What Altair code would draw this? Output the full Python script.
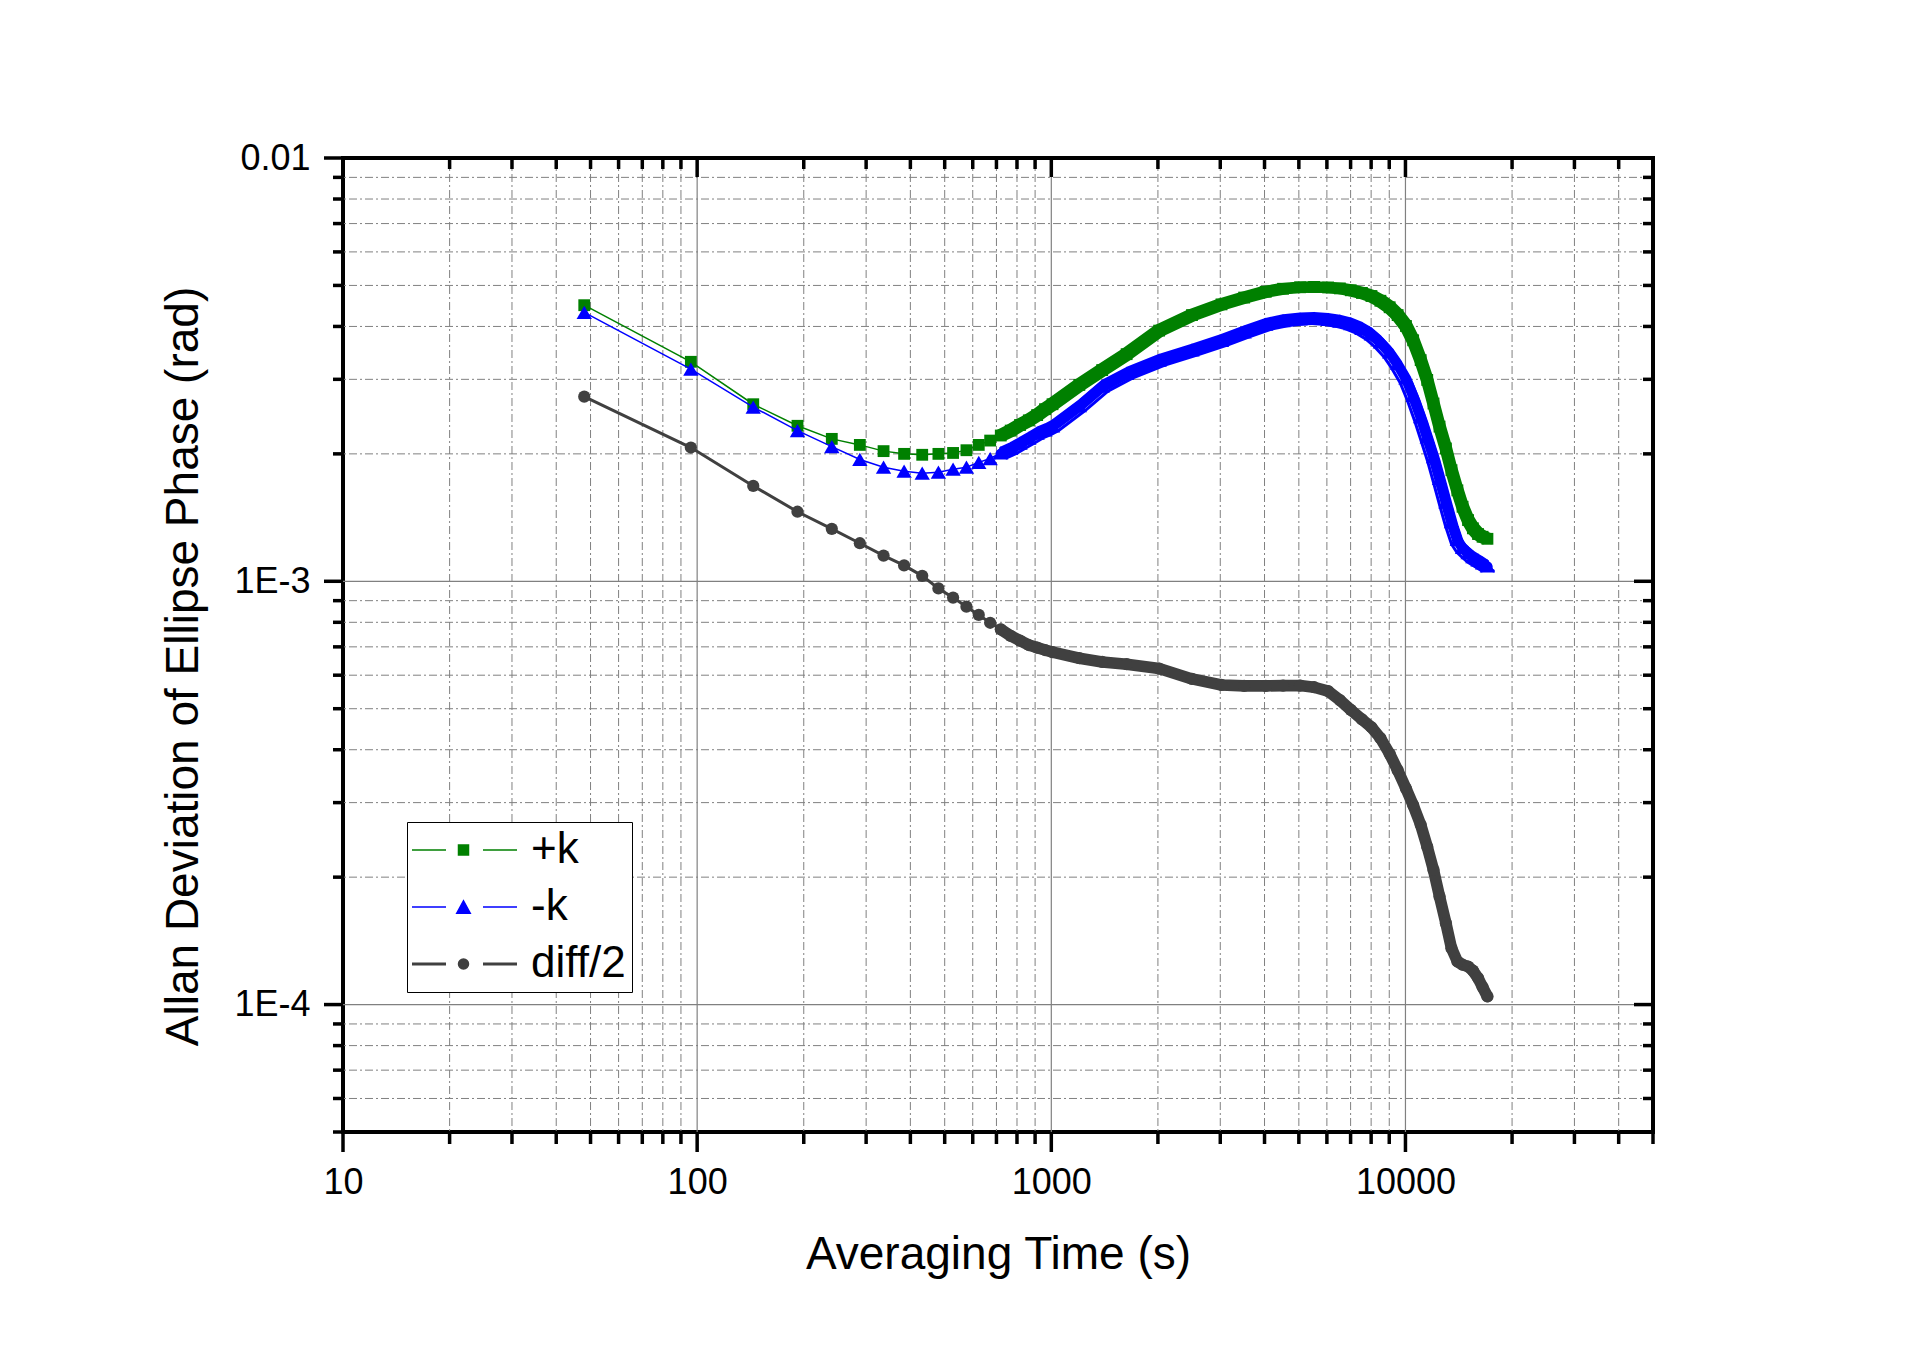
import altair as alt
import pandas as pd

FONT = "Liberation Sans, Arial, Helvetica, sans-serif"

# ---------------- data ----------------
tau = [48, 96, 144, 192, 240, 288, 336, 384, 432, 480, 528, 576, 624, 672, 720,
       768, 816, 864, 912, 960, 1008,
       1200, 1392, 1632, 2016, 2496, 3024, 3504, 4032, 4512, 5040, 5520, 6048,
       6528, 7008, 7536, 8016, 8496, 9024, 9504, 10032, 10512, 11040, 11520,
       12000, 12480, 13008, 13488, 14016, 14496, 15024, 15504, 16032, 16512, 17040]

plus_k = [4.49e-3, 3.30e-3, 2.62e-3, 2.33e-3, 2.17e-3, 2.10e-3, 2.03e-3, 2.00e-3,
          1.99e-3, 2.00e-3, 2.01e-3, 2.04e-3, 2.10e-3, 2.15e-3, 2.21e-3, 2.27e-3,
          2.34e-3, 2.40e-3, 2.47e-3, 2.55e-3, 2.62e-3,
          2.91e-3, 3.155e-3, 3.44e-3, 3.91e-3, 4.255e-3, 4.51e-3, 4.68e-3, 4.83e-3,
          4.91e-3, 4.95e-3, 4.96e-3, 4.945e-3, 4.92e-3, 4.87e-3, 4.80e-3, 4.72e-3,
          4.60e-3, 4.44e-3, 4.255e-3, 4.01e-3, 3.71e-3, 3.33e-3, 2.99e-3, 2.63e-3,
          2.32e-3, 2.06e-3, 1.83e-3, 1.64e-3, 1.50e-3, 1.395e-3, 1.334e-3, 1.293e-3,
          1.274e-3, 1.26e-3]

minus_k = [4.32e-3, 3.17e-3, 2.58e-3, 2.27e-3, 2.08e-3, 1.94e-3, 1.86e-3, 1.82e-3,
           1.80e-3, 1.81e-3, 1.84e-3, 1.86e-3, 1.91e-3, 1.95e-3, 2.01e-3, 2.06e-3,
           2.12e-3, 2.18e-3, 2.24e-3, 2.28e-3, 2.33e-3,
           2.60e-3, 2.89e-3, 3.10e-3, 3.33e-3, 3.52e-3, 3.71e-3, 3.885e-3, 4.05e-3,
           4.13e-3, 4.17e-3, 4.18e-3, 4.156e-3, 4.12e-3, 4.06e-3, 3.96e-3, 3.84e-3,
           3.68e-3, 3.485e-3, 3.27e-3, 3.025e-3, 2.75e-3, 2.45e-3, 2.195e-3, 1.97e-3,
           1.75e-3, 1.54e-3, 1.383e-3, 1.256e-3, 1.203e-3, 1.169e-3, 1.143e-3,
           1.123e-3, 1.106e-3, 1.087e-3]

diff_half = [2.73e-3, 2.07e-3, 1.68e-3, 1.46e-3, 1.33e-3, 1.23e-3, 1.15e-3, 1.09e-3,
             1.03e-3, 9.62e-4, 9.15e-4, 8.71e-4, 8.33e-4, 7.98e-4, 7.70e-4, 7.43e-4,
             7.24e-4, 7.07e-4, 6.97e-4, 6.88e-4, 6.80e-4,
             6.58e-4, 6.45e-4, 6.37e-4, 6.22e-4, 5.88e-4, 5.69e-4, 5.66e-4, 5.66e-4,
             5.67e-4, 5.67e-4, 5.62e-4, 5.50e-4, 5.24e-4, 4.97e-4, 4.72e-4, 4.52e-4,
             4.26e-4, 3.91e-4, 3.58e-4, 3.24e-4, 2.96e-4, 2.66e-4, 2.36e-4, 2.08e-4,
             1.80e-4, 1.557e-4, 1.359e-4, 1.264e-4, 1.242e-4, 1.23e-4, 1.203e-4,
             1.155e-4, 1.10e-4, 1.045e-4]

series_names = ["+k", "-k", "diff/2"]
series_colors = ["#008000", "#0000ff", "#404040"]

x_major = [10, 100, 1000, 10000]
x_minor = [20, 30, 40, 50, 60, 70, 80, 90,
           200, 300, 400, 500, 600, 700, 800, 900,
           2000, 3000, 4000, 5000, 6000, 7000, 8000, 9000,
           20000, 30000, 40000]
y_major = [1e-4, 1e-3, 1e-2]
y_minor = [6e-5, 7e-5, 8e-5, 9e-5,
           2e-4, 3e-4, 4e-4, 5e-4, 6e-4, 7e-4, 8e-4, 9e-4,
           2e-3, 3e-3, 4e-3, 5e-3, 6e-3, 7e-3, 8e-3, 9e-3]

rows = []
for name, vals in zip(series_names, [plus_k, minus_k, diff_half]):
    for t, v in zip(tau, vals):
        rows.append({"tau": t, "adev": v, "series": name})
df = pd.DataFrame(rows)

# ---------------- layout ----------------
W, H = 1310, 974
xscale = alt.Scale(type="log", domain=[10, 50000], nice=False)
yscale = alt.Scale(type="log", domain=[5e-5, 1e-2], nice=False)
cscale = alt.Scale(domain=series_names, range=series_colors)

xaxis = alt.Axis(values=x_major, format="d", title="Averaging Time (s)",
                 grid=False, ticks=False, domain=False, labelFlush=False,
                 labelOverlap=False, labelFont=FONT, labelFontSize=36,
                 labelColor="black", labelPadding=33,
                 titleFont=FONT, titleFontSize=46, titleFontWeight="normal",
                 titleColor="black", titleY=136, titleBaseline="alphabetic")
yaxis = alt.Axis(values=y_major,
                 labelExpr="datum.value > 0.005 ? '0.01' : (datum.value > 0.0005 ? '1E-3' : '1E-4')",
                 title="Allan Deviation of Ellipse Phase (rad)",
                 grid=False, ticks=False, domain=False, labelFlush=False,
                 labelOverlap=False, labelFont=FONT, labelFontSize=36,
                 labelColor="black", labelPadding=33,
                 titleFont=FONT, titleFontSize=46, titleFontWeight="normal",
                 titleColor="black", titleAngle=270, titleX=-146, titleY=508,
                 titleAlign="center", titleBaseline="alphabetic")

# legend symbols: line - marker - line (path units of 5 px)
P_PLUS = "M-4.6,0H2.2M9.6,0H16.4M4.7,-1H6.7V1H4.7Z"
P_MINUS = "M-4.6,0H2.2M9.6,0H16.4M5.7,-1.25L7.05,1.25L4.35,1.25Z"
P_DIFF = ("M-4.6,-0.15H2.2M-4.6,0.15H2.2M9.6,-0.15H16.4M9.6,0.15H16.4"
          "M4.7,0A1,1 0 1,0 6.7,0A1,1 0 1,0 4.7,0Z")

legend = alt.Legend(
    title=None, orient="none", legendX=64, legendY=664, padding=6,
    rowPadding=13, strokeColor="black", fillColor="white",
    labelFont=FONT, labelFontSize=44, labelColor="black", labelOffset=74,
    labelLimit=0, symbolSize=100, symbolOpacity=1, symbolStrokeWidth=1.5,
)


def X(field):
    return alt.X(f"{field}:Q", scale=xscale, axis=xaxis)


def Y(field):
    return alt.Y(f"{field}:Q", scale=yscale, axis=yaxis)


GRID = "#808080"
DASHDOT = [8, 3, 2, 3]
layers = []

# grid lines
layers.append(alt.Chart(pd.DataFrame({"v": x_minor})).mark_rule(
    color=GRID, strokeWidth=1, strokeDash=DASHDOT).encode(x=X("v")))
layers.append(alt.Chart(pd.DataFrame({"v": y_minor})).mark_rule(
    color=GRID, strokeWidth=1, strokeDash=DASHDOT).encode(y=Y("v")))
layers.append(alt.Chart(pd.DataFrame({"v": x_major[1:]})).mark_rule(
    color=GRID, strokeWidth=1.2).encode(x=X("v")))
layers.append(alt.Chart(pd.DataFrame({"v": y_major[:2]})).mark_rule(
    color=GRID, strokeWidth=1.2).encode(y=Y("v")))

# ticks (bottom/left outward, top/right inward)
TW = 3.5
xt_minor = pd.DataFrame({"v": x_minor + [50000]})
xt_major = pd.DataFrame({"v": x_major})
yt_minor = pd.DataFrame({"v": [5e-5] + y_minor})
yt_major = pd.DataFrame({"v": y_major})
layers.append(alt.Chart(xt_minor).mark_rule(color="black", strokeWidth=TW).encode(
    x=X("v"), y=alt.value(H), y2=alt.value(H + 12)))
layers.append(alt.Chart(xt_major).mark_rule(color="black", strokeWidth=TW).encode(
    x=X("v"), y=alt.value(H), y2=alt.value(H + 20)))
layers.append(alt.Chart(xt_minor).mark_rule(color="black", strokeWidth=TW).encode(
    x=X("v"), y=alt.value(0), y2=alt.value(11)))
layers.append(alt.Chart(xt_major).mark_rule(color="black", strokeWidth=TW).encode(
    x=X("v"), y=alt.value(0), y2=alt.value(19)))
layers.append(alt.Chart(yt_minor).mark_rule(color="black", strokeWidth=TW).encode(
    y=Y("v"), x=alt.value(-10), x2=alt.value(0)))
layers.append(alt.Chart(yt_major).mark_rule(color="black", strokeWidth=TW).encode(
    y=Y("v"), x=alt.value(-19), x2=alt.value(0)))
layers.append(alt.Chart(yt_minor).mark_rule(color="black", strokeWidth=TW).encode(
    y=Y("v"), x=alt.value(W - 10), x2=alt.value(W)))
layers.append(alt.Chart(yt_major).mark_rule(color="black", strokeWidth=TW).encode(
    y=Y("v"), x=alt.value(W - 19), x2=alt.value(W)))

# marker styles; "brush" = (xOffset, yOffset, width) strokes that approximate
# the sweep of the densely packed markers
styles = {
    "+k": dict(shape="square", size=140, line=1.5,
               brush=[(0, 0, 10.5), (-3.9, -3.9, 3.2), (3.9, -3.9, 3.2),
                      (-3.9, 3.9, 3.2), (3.9, 3.9, 3.2)]),
    "-k": dict(shape="triangle-up", size=235, line=1.5,
               brush=[(0, 0.8, 10.5), (0, -4.8, 3), (-5.8, 4.9, 3),
                      (5.8, 4.9, 3)]),
    "diff/2": dict(shape="circle", size=150, line=3,
                   brush=[(0, 0, 11.6)]),
}

for name, col in zip(series_names, series_colors):
    st = styles[name]
    base = alt.Chart(df).transform_filter(alt.datum.series == name)
    layers.append(base.mark_line(strokeWidth=st["line"], color=col).encode(
        x=X("tau"), y=Y("adev")))
    for dx, dy, w in st["brush"]:
        layers.append(base.transform_filter(alt.datum.tau >= 720).mark_line(
            strokeWidth=w, strokeJoin="round", strokeCap="round",
            xOffset=dx, yOffset=dy, color=col).encode(x=X("tau"), y=Y("adev")))
    layers.append(base.mark_point(shape=st["shape"], size=st["size"], filled=True,
                                  opacity=1, color=col).encode(
        x=X("tau"), y=Y("adev")))

# legend-only layer (draws no data marks)
layers.append(alt.Chart(df).transform_filter(alt.datum.tau < 0).mark_point(
    filled=True, opacity=1, size=100, strokeWidth=1.5).encode(
    x=X("tau"), y=Y("adev"),
    fill=alt.Fill("series:N", scale=cscale, legend=legend),
    stroke=alt.Stroke("series:N", scale=cscale, legend=legend),
    shape=alt.Shape("series:N", scale=alt.Scale(domain=series_names,
                                                range=[P_PLUS, P_MINUS, P_DIFF]),
                    legend=legend),
))

chart = alt.layer(*layers).properties(
    width=W, height=H, background="white",
    autosize=alt.AutoSizeParams(type="none"),
    padding={"left": 335, "top": 150, "right": 250, "bottom": 200},
).configure_view(stroke="black", strokeWidth=4)

chart.save("out.html", embed_options={"renderer": "svg", "actions": False})
